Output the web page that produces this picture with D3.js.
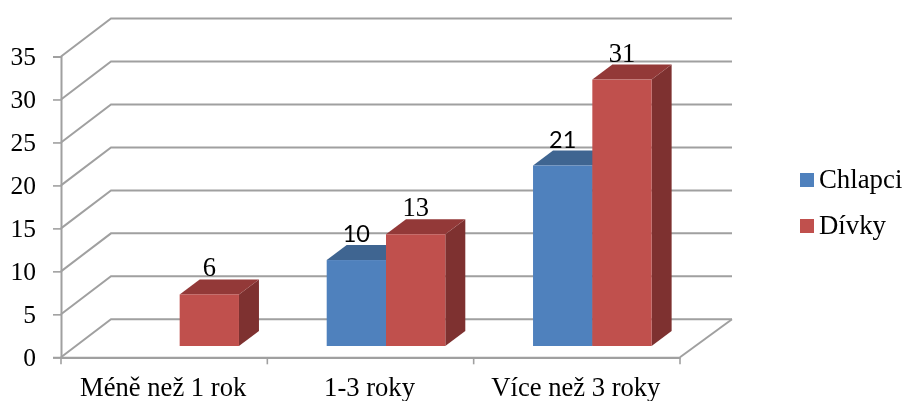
<!DOCTYPE html>
<html><head><meta charset="utf-8">
<script src="https://cdnjs.cloudflare.com/ajax/libs/d3/7.8.5/d3.min.js"></script>
<style>html,body{margin:0;padding:0;background:#fff}svg{display:block}#c{filter:blur(0.35px)}</style>
</head><body><svg id="c" width="905" height="401"></svg>
<script>
const categories = ["Méně než 1 rok", "1-3 roky", "Více než 3 roky"];
const seriesNames = ["Chlapci", "Dívky"];
const chlapci = [null, 10, 21];
const divky = [6, 13, 31];
const yTicks = [0, 5, 10, 15, 20, 25, 30, 35];
const colors = ["#4f81bd", "#c0504d"];
const topColors = ["#3f6591", "#933938"];
const sideColors = ["#35557c", "#7e3130"];
const labelFonts = ["Lato", "Liberation Serif"];
const labelSizes = [23.5, 26.5];
const serif = "'Liberation Serif', serif";

const svg = d3.select("#c");
const x = d3.scaleBand().domain(categories).range([61, 680]);
const y = d3.scaleLinear().domain([0, 35]).range([357.3, 56.5]);
const wall = { dx: 50, dy: -38 };
const barOff = { dx: 15.5, dy: -11.3 };
const depth = { dx: 20, dy: -15 };
const barW = 59.3;
const grid = "#a0a0a0";
const [x0, x1] = x.range();

const g = svg.append("g").attr("fill", "none").attr("stroke", grid).attr("stroke-width", 2);
yTicks.forEach(v => {
  g.append("polyline").attr("points", [
    [x0, y(v)], [x0 + wall.dx, y(v) + wall.dy], [x1 + wall.dx + 2, y(v) + wall.dy]
  ].join(" "));
});
g.append("line").attr("x1", x1).attr("y1", y(0)).attr("x2", x1 + wall.dx + 2).attr("y2", y(0) + wall.dy);

const yAxis = svg.append("g").attr("transform", `translate(${x0},0)`)
  .call(d3.axisLeft(y).tickValues(yTicks).tickSize(8).tickPadding(17));
yAxis.select(".domain").attr("stroke", grid).attr("stroke-width", 2);
yAxis.selectAll("line").attr("stroke", grid).attr("stroke-width", 1.6);
yAxis.selectAll("text").attr("font-family", serif).attr("font-size", 25.5).attr("fill", "#000");

const xAxis = svg.append("g").attr("transform", `translate(0,${y(0)})`)
  .call(d3.axisBottom(x).tickSize(0));
xAxis.select(".domain").attr("stroke", grid).attr("stroke-width", 2.2);
xAxis.selectAll("text").attr("font-family", serif).attr("font-size", 26.6).attr("fill", "#000")
  .attr("y", 39).attr("dy", 0).attr("dx", -1);
[...categories.map(c => x(c)), x1].forEach(px => {
  xAxis.append("line").attr("x1", px).attr("x2", px).attr("y1", 0).attr("y2", 7).attr("stroke", grid).attr("stroke-width", 1.6);
});

const series = [chlapci, divky];
categories.forEach((cat, ci) => {
  series.forEach((vals, si) => {
    const v = vals[ci];
    if (v === null) return;
    const cx = x(cat) + x.bandwidth() / 2 + barOff.dx;
    const left = cx + (si - 1) * barW;
    const right = left + barW;
    const bot = y(0) + barOff.dy;
    const top = y(v) + barOff.dy;
    const b = svg.append("g");
    b.append("polygon").attr("fill", sideColors[si]).attr("points",
      [[right, top], [right + depth.dx, top + depth.dy], [right + depth.dx, bot + depth.dy], [right, bot]].join(" "));
    b.append("polygon").attr("fill", topColors[si]).attr("points",
      [[left, top], [left + depth.dx, top + depth.dy], [right + depth.dx, top + depth.dy], [right, top]].join(" "));
    b.append("rect").attr("x", left).attr("y", top).attr("width", barW).attr("height", bot - top).attr("fill", colors[si]);
  });
});
categories.forEach((cat, ci) => {
  series.forEach((vals, si) => {
    const v = vals[ci];
    if (v === null) return;
    const cx = x(cat) + x.bandwidth() / 2 + barOff.dx + (si - 0.5) * barW;
    svg.append("text").attr("x", cx).attr("y", y(v) + barOff.dy - 18)
      .attr("text-anchor", "middle").attr("font-family", labelFonts[si]).attr("font-size", labelSizes[si]).attr("fill", "#000").text(v);
  });
});

const leg = svg.append("g");
seriesNames.forEach((n, i) => {
  const ly = 173 + i * 46;
  leg.append("rect").attr("x", 800).attr("y", ly).attr("width", 14).attr("height", 14).attr("fill", colors[i]);
  leg.append("text").attr("x", 819).attr("y", ly + 15).attr("font-family", serif).attr("font-size", 26.8).attr("fill", "#000").text(n);
});
</script></body></html>
